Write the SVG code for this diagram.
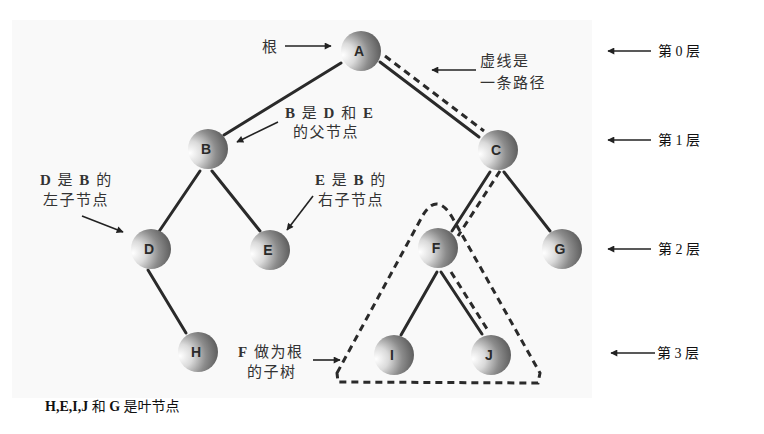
<svg xmlns="http://www.w3.org/2000/svg" width="764" height="434" viewBox="0 0 764 434">
<defs>
<radialGradient id="ball" cx="0.1" cy="0.6" r="1" fx="0.05" fy="0.6">
<stop offset="0" stop-color="#ffffff"/>
<stop offset="0.3" stop-color="#dadada"/>
<stop offset="0.62" stop-color="#8c8c8c"/>
<stop offset="1" stop-color="#505050"/>
</radialGradient>
<marker id="ah" viewBox="0 0 10 10" refX="9" refY="5" markerWidth="9" markerHeight="7" markerUnits="userSpaceOnUse" orient="auto">
<path d="M0,0 L10,5 L0,10 Z" fill="#222"/>
</marker>
<style>
.edge{stroke:#2a2a2a;stroke-width:3;stroke-linecap:round;fill:none}
.dash{stroke:#2a2a2a;stroke-width:3;stroke-dasharray:7,5;fill:none}
.arr{stroke:#222;stroke-width:1.6;fill:none;marker-end:url(#ah)}
.node{fill:url(#ball)}
.nl{font-family:"Liberation Sans",Arial,sans-serif;font-weight:bold;font-size:14px;fill:#2a2a2a;text-anchor:middle}
.note{font-family:"Liberation Serif","Noto Sans CJK SC",serif;font-size:15px;fill:#333;letter-spacing:1.5px}
.lvl{font-family:"Liberation Serif","Noto Sans CJK SC",serif;font-size:14px;fill:#111}
.foot{font-family:"Liberation Serif","Noto Sans CJK SC",serif;font-size:14px;fill:#111;font-weight:bold}
</style>
</defs>
<rect x="12" y="20" width="580" height="378" fill="#f9f9f9"/>
<g id="connectors">
<line class="edge" x1="341" y1="63" x2="224" y2="135"/>
<line class="edge" x1="380" y1="62" x2="479" y2="137"/>
<line class="edge" x1="490" y1="172" x2="452" y2="231"/>
<line class="edge" x1="504" y1="172" x2="550" y2="231"/>
<line class="edge" x1="200" y1="171" x2="158" y2="233"/>
<line class="edge" x1="212" y1="171" x2="260" y2="231"/>
<line class="edge" x1="148" y1="270" x2="186" y2="333"/>
<line class="edge" x1="437" y1="272" x2="401" y2="335"/>
<line class="edge" x1="441" y1="272" x2="482" y2="334"/>
<line class="dash" x1="385" y1="56" x2="484" y2="131"/>
<line class="dash" x1="500" y1="171" x2="458" y2="236"/>
<line class="dash" x1="451" y1="272" x2="489" y2="332"/>
<path class="dash" d="M337,373 L423,215 Q437,192 452,217 L540,373 L538,383 L338,382 Z"/>
<line class="arr" x1="285" y1="46" x2="331" y2="46"/>
<line class="arr" x1="476" y1="70" x2="432" y2="70"/>
<line class="arr" x1="278" y1="122" x2="237" y2="142"/>
<line class="arr" x1="82" y1="216" x2="123" y2="232"/>
<line class="arr" x1="313" y1="196" x2="287" y2="230"/>
<line class="arr" x1="313" y1="360" x2="340" y2="360"/>
<line class="arr" x1="651" y1="51" x2="608" y2="51"/>
<line class="arr" x1="651" y1="140" x2="608" y2="140"/>
<line class="arr" x1="651" y1="249" x2="608" y2="249"/>
<line class="arr" x1="655" y1="353" x2="611" y2="353"/>
</g>
<g id="A"><circle class="node" cx="361" cy="51" r="20"/><text class="nl" x="359" y="56">A</text></g>
<g id="B"><circle class="node" cx="208" cy="149" r="20"/><text class="nl" x="206" y="154">B</text></g>
<g id="C"><circle class="node" cx="498" cy="150" r="20"/><text class="nl" x="496" y="155">C</text></g>
<g id="D"><circle class="node" cx="151" cy="249" r="20"/><text class="nl" x="149" y="254">D</text></g>
<g id="E"><circle class="node" cx="270" cy="250" r="20"/><text class="nl" x="268" y="255">E</text></g>
<g id="F"><circle class="node" cx="438" cy="248" r="20"/><text class="nl" x="436" y="253">F</text></g>
<g id="G"><circle class="node" cx="562" cy="249" r="20"/><text class="nl" x="560" y="254">G</text></g>
<g id="H"><circle class="node" cx="198" cy="352" r="20"/><text class="nl" x="196" y="357">H</text></g>
<g id="I"><circle class="node" cx="394" cy="355" r="20"/><text class="nl" x="392" y="360">I</text></g>
<g id="J"><circle class="node" cx="491" cy="355" r="20"/><text class="nl" x="489" y="360">J</text></g>
<g id="notes">
<text class="note" x="262" y="52">根</text>
<text class="note" x="480" y="66">虚线是</text>
<text class="note" x="480" y="88">一条路径</text>
<text class="note" x="285" y="118"><tspan font-weight="bold">B</tspan> 是 <tspan font-weight="bold">D</tspan> 和 <tspan font-weight="bold">E</tspan></text>
<text class="note" x="293" y="137">的父节点</text>
<text class="note" x="40" y="185"><tspan font-weight="bold">D</tspan> 是 <tspan font-weight="bold">B</tspan> 的</text>
<text class="note" x="43" y="205">左子节点</text>
<text class="note" x="315" y="185"><tspan font-weight="bold">E</tspan> 是 <tspan font-weight="bold">B</tspan> 的</text>
<text class="note" x="318" y="205">右子节点</text>
<text class="note" x="238" y="357"><tspan font-weight="bold">F</tspan> 做为根</text>
<text class="note" x="247" y="377">的子树</text>
</g>
<g id="levels">
<text class="lvl" x="658" y="56">第 0 层</text>
<text class="lvl" x="658" y="145">第 1 层</text>
<text class="lvl" x="658" y="254">第 2 层</text>
<text class="lvl" x="657" y="358">第 3 层</text>
</g>
<text class="foot" x="45" y="411">H,E,I,J <tspan font-weight="normal">和</tspan> G <tspan font-weight="normal">是叶节点</tspan></text>
</svg>
